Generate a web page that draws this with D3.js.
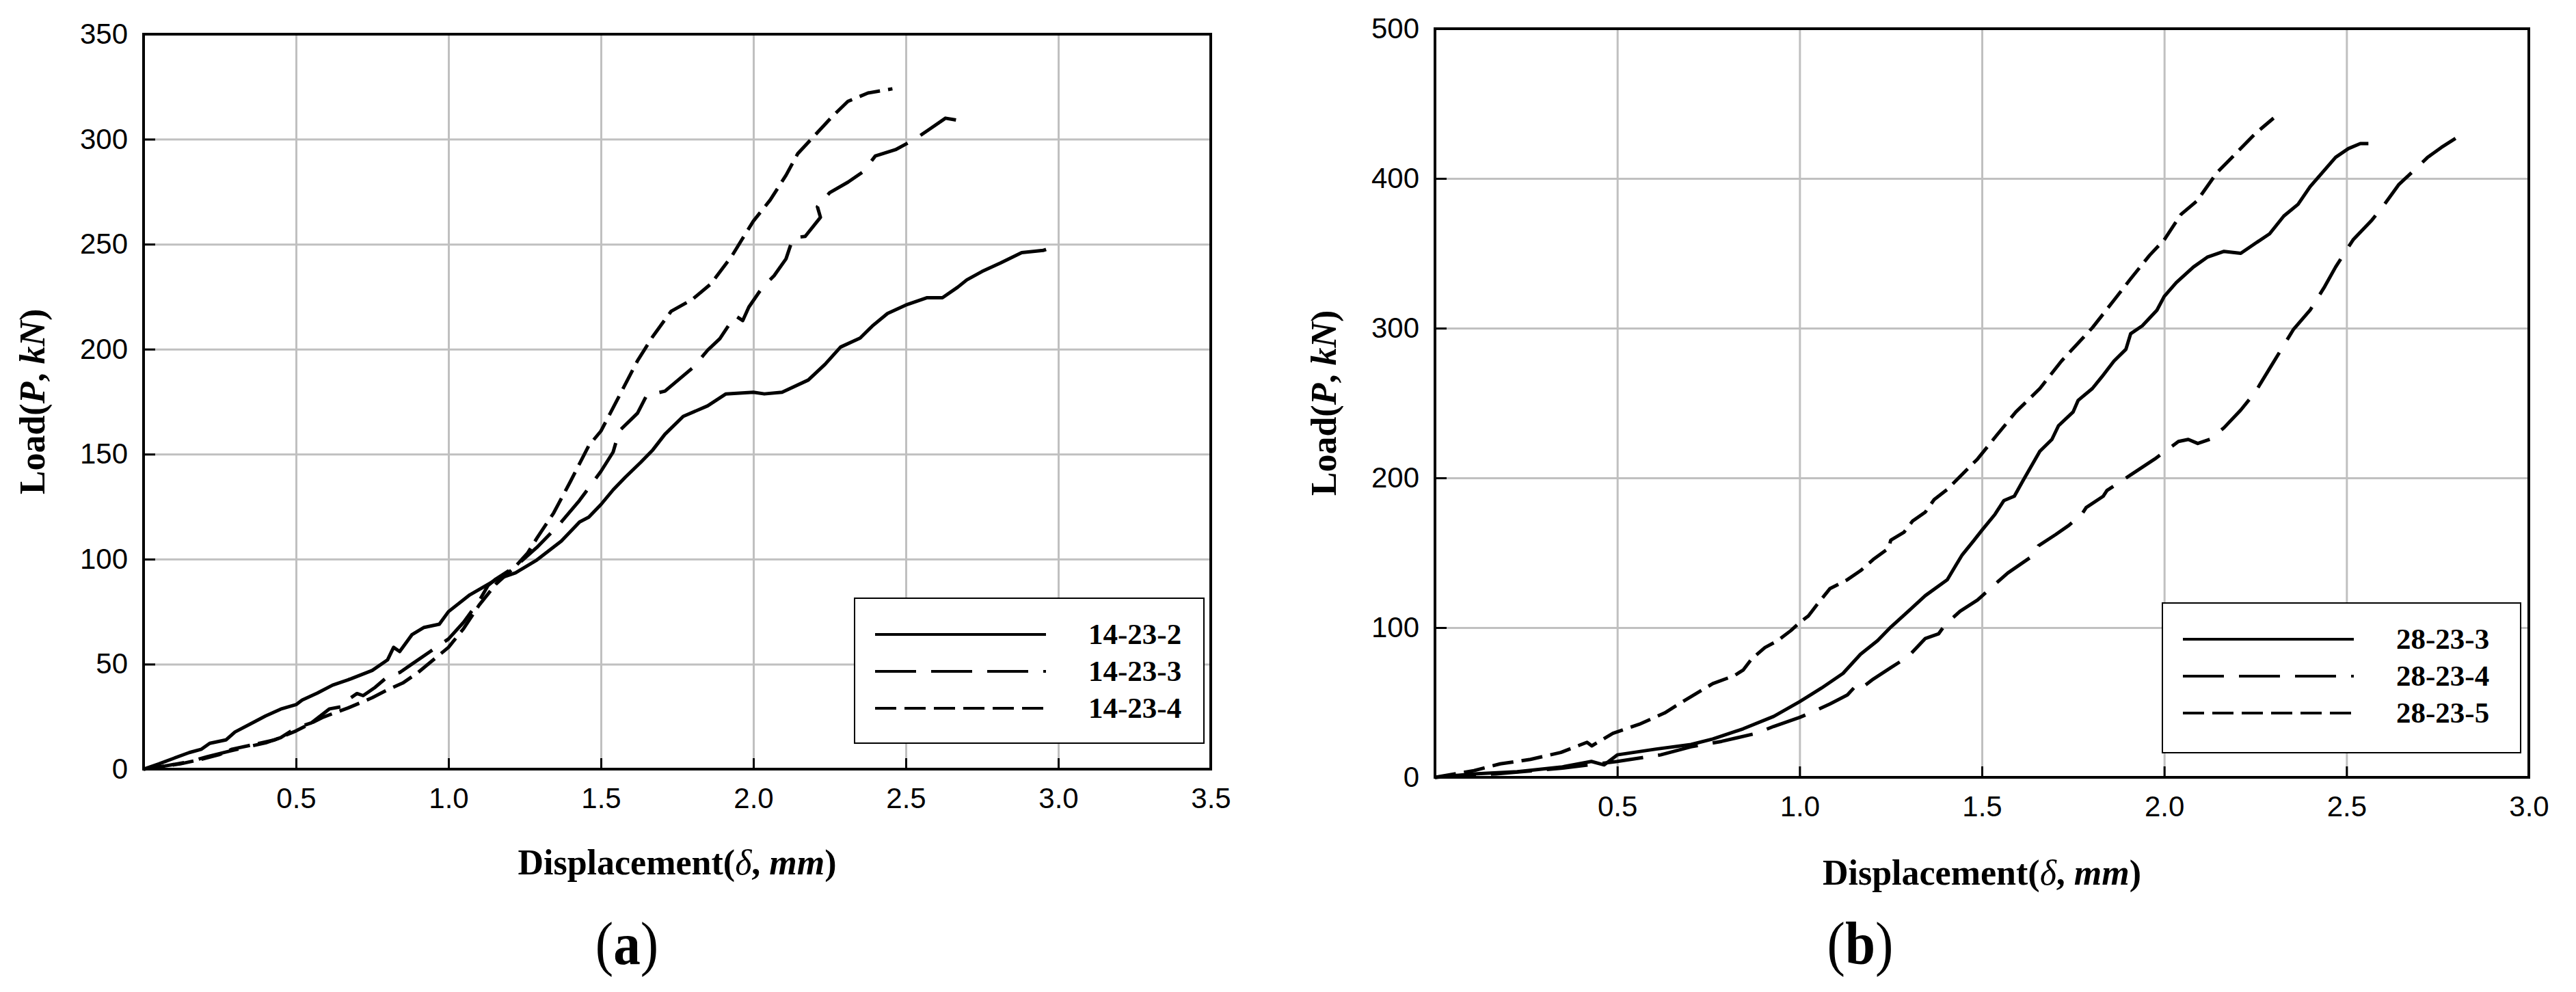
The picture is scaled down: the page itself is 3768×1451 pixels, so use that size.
<!DOCTYPE html>
<html>
<head>
<meta charset="utf-8">
<script src="https://cdn.jsdelivr.net/npm/d3@7/dist/d3.min.js"></script>
<style>
body { margin: 0; background: #fff; }
</style>
</head>
<body>
<svg width="3768" height="1451"></svg>
<script>
// load-displacement curves, [displacement mm, load kN]
var s14_23_2 = [[0,0],[0.05,2.5],[0.1,5.2],[0.15,7.9],[0.19,9.5],[0.217,12.3],[0.27,13.9],[0.3,17.7],[0.35,21.5],[0.4,25.3],[0.45,28.6],[0.5,30.7],[0.52,32.9],[0.57,36.2],[0.62,40],[0.68,43],[0.75,47],[0.8,52],[0.82,58],[0.84,56],[0.88,64],[0.92,67.5],[0.97,69],[1.0,75],[1.07,83],[1.16,90.5],[1.22,93.5],[1.29,99.6],[1.37,108.6],[1.43,117.7],[1.46,120],[1.5,126],[1.54,133],[1.58,139],[1.63,146],[1.67,152],[1.71,159.5],[1.77,168],[1.85,173],[1.91,178.7],[2.0,179.5],[2.036,178.7],[2.094,179.5],[2.18,185.3],[2.235,192.8],[2.286,201],[2.35,205.3],[2.39,211],[2.44,217],[2.5,221],[2.57,224.5],[2.62,224.5],[2.67,229.5],[2.7,233],[2.75,237],[2.81,241],[2.88,246],[2.95,247],[2.96,247.5]];
var s14_23_3 = [[0,0],[0.07,1.5],[0.15,3.5],[0.21,6],[0.28,8.5],[0.34,10.6],[0.4,12.5],[0.45,15],[0.5,19.6],[0.55,22],[0.61,28.7],[0.66,30],[0.68,34],[0.7,36],[0.72,35],[0.76,39],[0.8,44],[0.84,46],[0.88,50],[0.94,56],[1.0,62],[1.05,70],[1.1,80],[1.13,87.5],[1.155,90.5],[1.22,96.6],[1.29,105.6],[1.36,116],[1.43,128],[1.5,141.8],[1.54,151],[1.56,161],[1.62,169.5],[1.65,178],[1.71,180],[1.8,191],[1.85,199.5],[1.89,205],[1.94,216],[1.965,213.6],[1.985,220],[2.03,229.5],[2.068,235],[2.107,243],[2.13,253],[2.17,253.7],[2.22,262.8],[2.21,267.8],[2.25,274.5],[2.31,279.5],[2.36,284.5],[2.4,292],[2.466,295],[2.53,300],[2.58,305],[2.63,310],[2.67,309],[2.71,309.5]];
var s14_23_4 = [[0,0],[0.05,0.9],[0.12,2.5],[0.19,4.7],[0.25,7],[0.29,9.5],[0.38,12.3],[0.43,13.9],[0.5,18.2],[0.59,24.8],[0.67,29.1],[0.75,34],[0.8,37.8],[0.85,41],[0.9,46],[0.95,52],[1.0,58],[1.05,67],[1.1,78],[1.155,88],[1.22,96.6],[1.26,103],[1.29,110],[1.345,122],[1.4,137],[1.46,154],[1.5,161],[1.554,176],[1.62,194.5],[1.67,206],[1.73,218],[1.8,223.7],[1.86,231],[1.93,244.5],[1.965,252.8],[2.0,261],[2.055,271],[2.107,282.8],[2.145,293],[2.196,301],[2.26,311],[2.31,318],[2.376,322],[2.456,324]];

var s28_23_3 = [[0,0],[0.107,2.3],[0.226,3.8],[0.345,6.8],[0.429,10.6],[0.464,8.3],[0.5,15],[0.607,18.9],[0.702,21.9],[0.762,25.6],[0.845,32.4],[0.929,40.7],[1.0,50.5],[1.06,59.6],[1.119,69.4],[1.167,82.2],[1.214,91.3],[1.25,100.3],[1.298,110.9],[1.345,121.4],[1.405,132],[1.429,141.8],[1.446,148.6],[1.476,157.6],[1.5,165],[1.536,175.7],[1.56,184.8],[1.589,187.8],[1.613,198.3],[1.659,217.8],[1.692,225.7],[1.71,234.8],[1.75,244],[1.764,251.8],[1.803,259.7],[1.829,267.5],[1.862,278],[1.895,285.9],[1.908,296.3],[1.94,301.6],[1.98,312],[2.0,321.2],[2.033,330.4],[2.08,340.8],[2.118,347.4],[2.164,351.3],[2.21,350],[2.249,356.5],[2.289,363],[2.328,374.9],[2.367,382.7],[2.4,394.5],[2.433,403.7],[2.47,414.1],[2.505,419.9],[2.538,423.3],[2.56,423.3]];
var s28_23_4 = [[0,0],[0.167,2.3],[0.345,6],[0.5,10.6],[0.619,15],[0.702,20.4],[0.786,24],[0.881,29.4],[0.929,34],[1.0,40],[1.036,43.7],[1.083,49],[1.131,55],[1.15,60],[1.161,58],[1.202,65.6],[1.25,73.2],[1.298,80.7],[1.333,89.7],[1.345,92.8],[1.381,95.8],[1.399,101.8],[1.44,110.9],[1.488,118.4],[1.536,129],[1.571,136.5],[1.607,142.5],[1.643,148.6],[1.655,154.6],[1.702,162.1],[1.738,168.2],[1.774,175.7],[1.786,180.2],[1.833,187.8],[1.843,191.6],[1.908,202],[1.974,212.6],[2.039,224.3],[2.066,225.7],[2.092,223],[2.125,225.7],[2.164,233.5],[2.21,245.3],[2.249,257],[2.295,275.4],[2.354,299],[2.4,312],[2.44,327.7],[2.47,340.8],[2.518,359],[2.57,372.3],[2.604,382.7],[2.643,395.8],[2.689,406.3],[2.722,414],[2.76,420.7],[2.81,428.5],[2.83,430]];
var s28_23_5 = [[0,0],[0.107,4.5],[0.179,9],[0.262,12],[0.345,16.6],[0.417,23.4],[0.43,21],[0.488,29.4],[0.56,35.4],[0.63,43],[0.679,50.5],[0.762,62.6],[0.821,67.9],[0.845,71.6],[0.869,79.2],[0.905,86.7],[0.94,91.3],[0.976,98],[1.0,103.3],[1.024,107.8],[1.048,115.4],[1.083,126],[1.131,132],[1.167,138],[1.202,145.5],[1.244,153],[1.25,158.4],[1.286,163.6],[1.31,171.2],[1.345,177.2],[1.369,185.5],[1.405,192.3],[1.488,212.6],[1.54,228.3],[1.593,244],[1.659,259.7],[1.718,278],[1.803,300.3],[1.862,318.6],[1.908,333],[1.96,348.7],[2.0,359],[2.046,376],[2.09,385],[2.144,403.7],[2.197,416.8],[2.249,429.8],[2.3,440.3]];

var namesA = ["14-23-2", "14-23-3", "14-23-4"];
var namesB = ["28-23-3", "28-23-4", "28-23-5"];
var xTicksA = [0.5, 1.0, 1.5, 2.0, 2.5, 3.0, 3.5];
var yTicksA = [0, 50, 100, 150, 200, 250, 300, 350];
var xTicksB = [0.5, 1.0, 1.5, 2.0, 2.5, 3.0];
var yTicksB = [0, 100, 200, 300, 400, 500];

var svg = d3.select("svg");
var dashes = [null, "60,22", "31,12"];

function drawPanel(p) {
  var x = d3.scaleLinear().domain([0, p.xMax]).range([p.left, p.right]),
      y = d3.scaleLinear().domain([0, p.yMax]).range([p.bottom, p.top]);
  var g = svg.append("g");

  // grey grid
  g.append("g")
    .attr("transform", "translate(0," + p.bottom + ")")
    .call(d3.axisBottom(x).tickValues(p.xTicks).tickSize(-(p.bottom - p.top)).tickFormat(""))
    .call(a => a.select(".domain").remove())
    .selectAll("line").attr("stroke", "#c0c0c0").attr("stroke-width", 3);
  g.append("g")
    .attr("transform", "translate(" + p.left + ",0)")
    .call(d3.axisLeft(y).tickValues(p.yTicks).tickSize(-(p.right - p.left)).tickFormat(""))
    .call(a => a.select(".domain").remove())
    .selectAll("line").attr("stroke", "#c0c0c0").attr("stroke-width", 3);

  var line = d3.line().x(d => x(d[0])).y(d => y(d[1]));
  p.series.forEach(function(s, i) {
    g.append("path")
      .attr("d", line(s))
      .attr("fill", "none")
      .attr("stroke", "#000")
      .attr("stroke-width", 5)
      .attr("stroke-linejoin", "round")
      .attr("stroke-dasharray", dashes[i]);
  });

  // axes with inner ticks
  var xa = g.append("g")
    .attr("transform", "translate(0," + p.bottom + ")")
    .call(d3.axisBottom(x).tickValues(p.xTicks).tickSizeInner(-16).tickSizeOuter(0).tickPadding(27).tickFormat(d3.format(".1f")));
  var ya = g.append("g")
    .attr("transform", "translate(" + p.left + ",0)")
    .call(d3.axisLeft(y).tickValues(p.yTicks).tickSizeInner(-17).tickSizeOuter(0).tickPadding(23).tickFormat(d3.format("d")));
  [xa, ya].forEach(function(a) {
    a.select(".domain").remove();
    a.selectAll("line").attr("stroke", "#000").attr("stroke-width", 3);
    a.selectAll("text").attr("font-family", "'Liberation Sans', Arial, sans-serif").attr("font-size", 42).attr("fill", "#000");
  });
  // last x tick sits on the frame, drop its inner tick
  xa.selectAll(".tick").filter(d => d === p.xMax).select("line").remove();
  ya.selectAll(".tick").filter(d => d === p.yMax || d === 0).select("line").remove();

  g.append("rect")
    .attr("x", p.left).attr("y", p.top)
    .attr("width", p.right - p.left).attr("height", p.bottom - p.top)
    .attr("fill", "none").attr("stroke", "#000").attr("stroke-width", 4);

  // axis titles
  var xt = g.append("text")
    .attr("x", (p.left + p.right) / 2).attr("y", p.xTitleY)
    .attr("text-anchor", "middle")
    .attr("font-family", "'Liberation Serif', 'Times New Roman', serif")
    .attr("font-size", 52).attr("font-weight", "bold");
  xt.append("tspan").text("Displacement(");
  xt.append("tspan").attr("font-style", "italic").attr("font-weight", "normal").text("δ");
  xt.append("tspan").text(", ");
  xt.append("tspan").attr("font-style", "italic").text("mm");
  xt.append("tspan").text(")");

  var yt = g.append("text")
    .attr("transform", "translate(" + p.yTitleX + "," + (p.top + p.bottom) / 2 + ") rotate(-90)")
    .attr("text-anchor", "middle")
    .attr("font-family", "'Liberation Serif', 'Times New Roman', serif")
    .attr("font-size", 52).attr("font-weight", "bold");
  yt.append("tspan").text("Load(");
  yt.append("tspan").attr("font-style", "italic").text("P");
  yt.append("tspan").text(", ");
  yt.append("tspan").attr("font-style", "italic").text("kN");
  yt.append("tspan").text(")");

  // legend
  var lg = g.append("g");
  lg.append("rect")
    .attr("x", p.leg[0]).attr("y", p.leg[1])
    .attr("width", p.leg[2]).attr("height", p.leg[3])
    .attr("fill", "#fff").attr("stroke", "#000").attr("stroke-width", 2);
  p.names.forEach(function(n, i) {
    var ry = p.leg[1] + 53 + i * 54;
    lg.append("line")
      .attr("x1", p.leg[0] + 30).attr("x2", p.leg[0] + 280)
      .attr("y1", ry).attr("y2", ry)
      .attr("stroke", "#000").attr("stroke-width", 4)
      .attr("stroke-dasharray", dashes[i]);
    lg.append("text")
      .attr("x", p.leg[0] + 342).attr("y", ry + 14)
      .attr("font-family", "'Liberation Serif', 'Times New Roman', serif")
      .attr("font-size", 43).attr("font-weight", "bold")
      .text(n);
  });

  // panel label
  var pl = g.append("text")
    .attr("transform", "translate(" + p.labelX + ",1410) scale(0.9,1)")
    .attr("text-anchor", "middle")
    .attr("font-family", "'Liberation Serif', 'Times New Roman', serif")
    .attr("font-size", 88);
  pl.append("tspan").text("(");
  pl.append("tspan").attr("font-weight", "bold").text(p.label);
  pl.append("tspan").text(")");
}

drawPanel({
  left: 210, right: 1771, top: 50, bottom: 1125,
  xMax: 3.5, yMax: 350, xTicks: xTicksA, yTicks: yTicksA,
  series: [s14_23_2, s14_23_3, s14_23_4], names: namesA,
  xTitleY: 1279, yTitleX: 65,
  leg: [1250, 875, 511, 212],
  label: "a", labelX: 917
});
drawPanel({
  left: 2099, right: 3699, top: 42, bottom: 1137,
  xMax: 3.0, yMax: 500, xTicks: xTicksB, yTicks: yTicksB,
  series: [s28_23_3, s28_23_4, s28_23_5], names: namesB,
  xTitleY: 1294, yTitleX: 1954,
  leg: [3163, 882, 524, 219],
  label: "b", labelX: 2721
});
</script>
</body>
</html>
